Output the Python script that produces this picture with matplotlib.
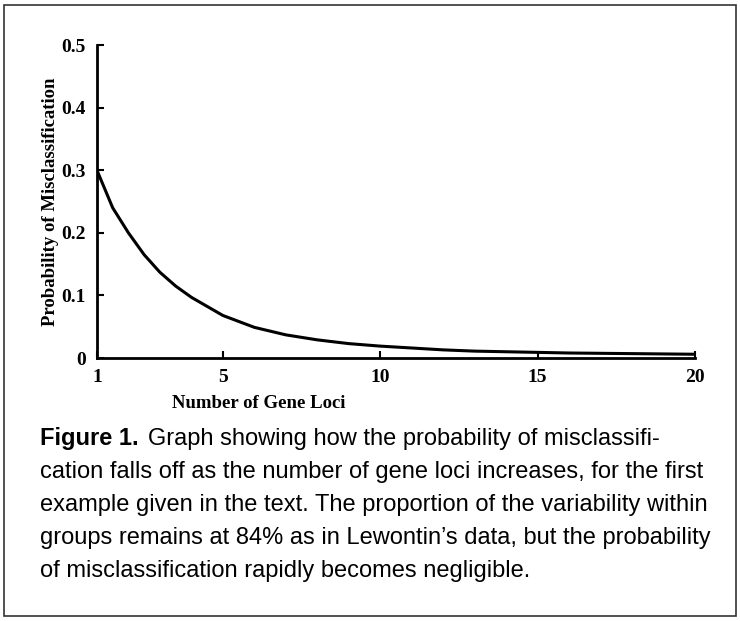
import matplotlib.pyplot as plt
from matplotlib.patches import Rectangle

loci = [1, 1.5, 2, 2.5, 3, 3.5, 4, 5, 6, 7, 8, 9, 10, 11, 12, 13, 14, 15, 16, 17, 18, 19, 20]
prob = [0.30, 0.24, 0.20, 0.165, 0.137, 0.115, 0.097, 0.068, 0.049, 0.037, 0.029, 0.023,
        0.019, 0.016, 0.013, 0.011, 0.010, 0.009, 0.008, 0.0075, 0.007, 0.0065, 0.006]
xticks = [1, 5, 10, 15, 20]
yticks = [0, 0.1, 0.2, 0.3, 0.4, 0.5]
ylabels = ['0', '0.1', '0.2', '0.3', '0.4', '0.5']

caption = ["Graph showing how the probability of misclassifi-",
           "cation falls off as the number of gene loci increases, for the first",
           "example given in the text. The proportion of the variability within",
           "groups remains at 84% as in Lewontin\u2019s data, but the probability",
           "of misclassification rapidly becomes negligible."]

fig = plt.figure(figsize=(7.4, 6.21), dpi=100)
fig.patches.append(Rectangle((0.006, 0.008), 0.988, 0.984, transform=fig.transFigure,
                             fill=False, lw=1.2, ec='#333333'))

ax = fig.add_axes([0.131, 0.4235, 0.808, 0.504])
ax.plot(loci, prob, color='black', lw=2.2)
ax.set_xlim(1, 20)
ax.set_ylim(0, 0.5)
ax.set_xticks(xticks)
ax.set_yticks(yticks)
ax.set_yticklabels(ylabels)
for s in ['top', 'right']:
    ax.spines[s].set_visible(False)
for s in ['left', 'bottom']:
    ax.spines[s].set_linewidth(2)
ax.tick_params(direction='in', length=5, width=1.5, pad=8)
for lab in ax.get_xticklabels() + ax.get_yticklabels():
    lab.set_fontfamily('Liberation Serif')
    lab.set_fontweight('bold')
    lab.set_fontsize(14)
ax.set_ylabel('Probability of Misclassification', family='Liberation Serif',
              weight='bold', fontsize=13.5, labelpad=2)
fig.text(0.232, 0.343, 'Number of Gene Loci', family='Liberation Serif',
         weight='bold', fontsize=13.5)

fig.text(0.054, 0.283, 'Figure 1.', family='Liberation Sans', weight='bold', fontsize=17)
fig.text(0.200, 0.283, caption[0], family='Liberation Sans', fontsize=17)
for i, line in enumerate(caption[1:]):
    fig.text(0.054, 0.283 - 0.053 * (i + 1), line, family='Liberation Sans', fontsize=17)

fig.savefig('out.png', dpi=100)
